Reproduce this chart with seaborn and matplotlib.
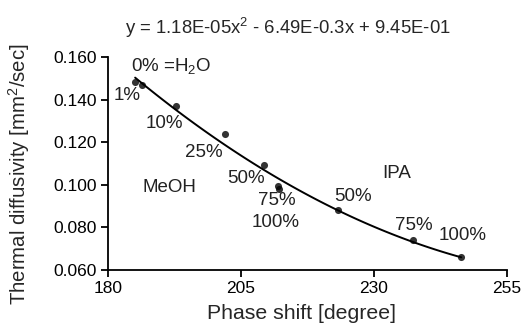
import numpy as np
import pandas as pd
import matplotlib
matplotlib.use('Agg')
import matplotlib.pyplot as plt
import seaborn as sns

# ---- data ----
phase_shift = [185.1, 186.3, 192.8, 202.0, 209.4, 212.0, 212.2, 223.3, 237.4, 246.4]
diffusivity = [0.1485, 0.1470, 0.1370, 0.1240, 0.1095, 0.0995, 0.0980, 0.0880, 0.0740, 0.0660]

# concentration labels: (text, x, y) in data coords
labels_meoh = [('0% =H$_2$O', 184.3, 0.1535), ('1%', 181.0, 0.1400), ('10%', 187.0, 0.1268),
               ('25%', 194.5, 0.1130), ('50%', 202.5, 0.1010), ('75%', 208.2, 0.0905),
               ('100%', 207.0, 0.0800)]
labels_ipa = [('IPA', 231.5, 0.1030), ('50%', 222.5, 0.0925), ('75%', 233.9, 0.0790),
              ('100%', 242.2, 0.0740)]
group_labels = [('MeOH', 186.5, 0.0968)]

df = pd.DataFrame({'phase': phase_shift, 'alpha': diffusivity})

sns.set_style('ticks')
plt.rcParams['font.family'] = ['Liberation Sans', 'DejaVu Sans']
plt.rcParams['mathtext.fontset'] = 'custom'
plt.rcParams['mathtext.rm'] = 'Liberation Sans'
plt.rcParams['mathtext.it'] = 'Liberation Sans'

fig = plt.figure(figsize=(5.25, 3.28), dpi=100)
ax = fig.add_axes([0.2057, 0.1768, 0.76, 0.6494])

# quadratic trend line + points
sns.regplot(data=df, x='phase', y='alpha', order=2, ci=None, ax=ax,
            scatter_kws={'marker': 'D', 's': 26, 'color': 'black', 'linewidths': 0},
            line_kws={'color': 'black', 'linewidth': 1.4})

ax.set_xlim(180, 255)
ax.set_ylim(0.060, 0.160)
ax.set_xticks([180, 205, 230, 255])
ax.set_yticks([0.060, 0.080, 0.100, 0.120, 0.140, 0.160])
ax.set_yticklabels([f'{v:.3f}' for v in ax.get_yticks()])
ax.tick_params(direction='out', length=5, width=1.3, labelsize=12.5, colors='black', pad=3)
for s in ['top', 'right']:
    ax.spines[s].set_visible(False)
for s in ['left', 'bottom']:
    ax.spines[s].set_linewidth(1.3)
    ax.spines[s].set_color('black')

ax.set_xlabel('Phase shift [degree]', fontsize=15.3)
ax.set_ylabel('Thermal diffusivity [mm$^2$/sec]', fontsize=14.7)
ax.xaxis.set_label_coords(0.485, -0.16)
ax.yaxis.set_label_coords(-0.19, 0.45)

for txt, x, y in labels_meoh + labels_ipa + group_labels:
    ax.text(x, y, txt, fontsize=13.5, color='#222222')

fig.text(0.549, 0.915, 'y = 1.18E-05x$^2$ - 6.49E-0.3x + 9.45E-01',
         ha='center', va='center', fontsize=13.3)

fig.savefig('out.png', dpi=100)
